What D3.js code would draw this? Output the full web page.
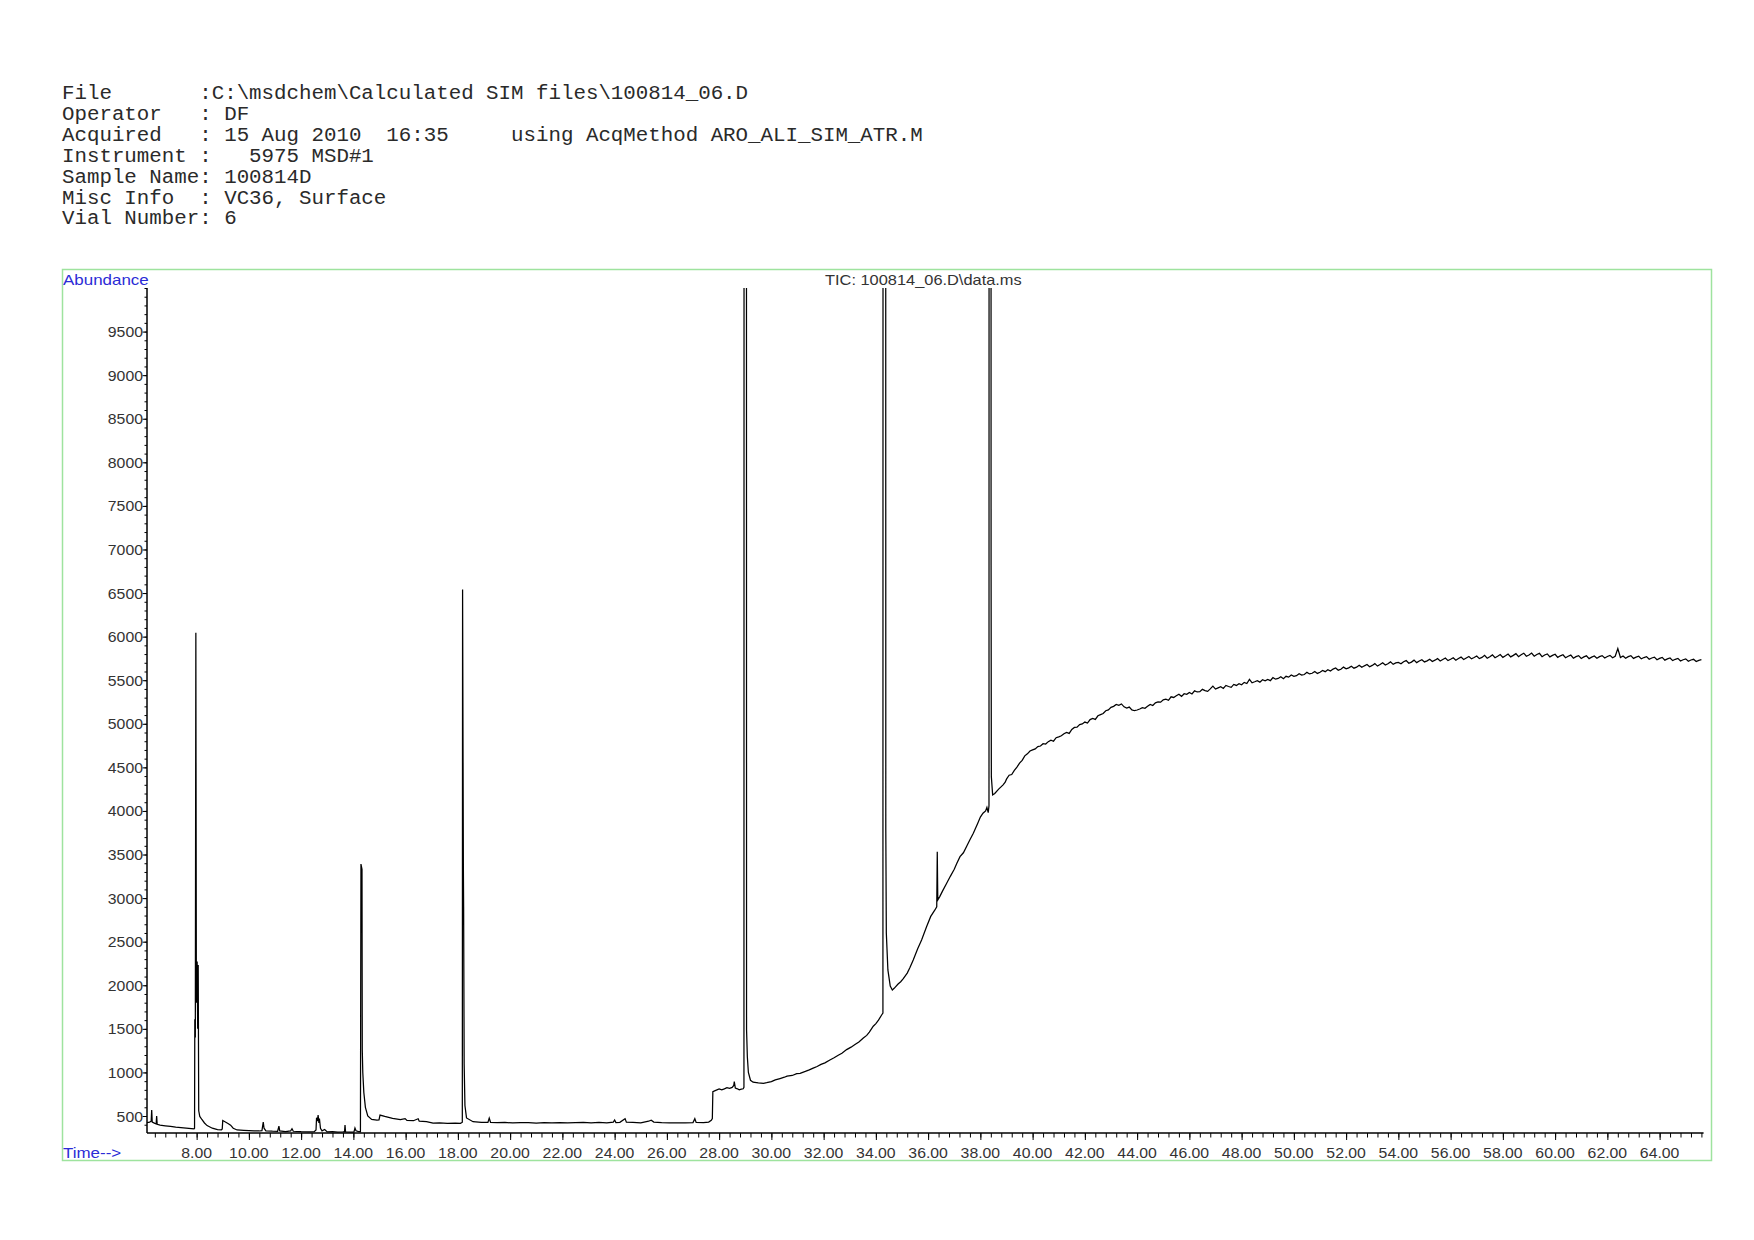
<!DOCTYPE html>
<html><head><meta charset="utf-8">
<script src="https://cdn.jsdelivr.net/npm/d3@7"></script>
<style>body{margin:0;background:#fff} svg{display:block}</style>
</head><body>
<script>
// ---------------- data ----------------
const headerLines = [
  "File       :C:\\msdchem\\Calculated SIM files\\100814_06.D",
  "Operator   : DF",
  "Acquired   : 15 Aug 2010  16:35     using AcqMethod ARO_ALI_SIM_ATR.M",
  "Instrument :   5975 MSD#1",
  "Sample Name: 100814D",
  "Misc Info  : VC36, Surface",
  "Vial Number: 6"
];
const chartTitle = "TIC: 100814_06.D\\data.ms";
const yAxisTitle = "Abundance";
const xAxisTitle = "Time-->";

const xMajorTicks = [8,10,12,14,16,18,20,22,24,26,28,30,32,34,36,38,40,42,44,46,48,50,52,54,56,58,60,62,64];
const xTickLabels = ["8.00","10.00","12.00","14.00","16.00","18.00","20.00","22.00","24.00","26.00","28.00","30.00","32.00","34.00","36.00","38.00","40.00","42.00","44.00","46.00","48.00","50.00","52.00","54.00","56.00","58.00","60.00","62.00","64.00"];
const yMajorTicks = [500,1000,1500,2000,2500,3000,3500,4000,4500,5000,5500,6000,6500,7000,7500,8000,8500,9000,9500];
const yTickLabels = ["500","1000","1500","2000","2500","3000","3500","4000","4500","5000","5500","6000","6500","7000","7500","8000","8500","9000","9500"];

// chromatogram: irregular part (peaks, off-scale apexes are clipped at the top)
const traceTimes = [6.10,6.20,6.26,6.28,6.30,6.40,6.45,6.47,6.49,6.6,6.8,7.0,7.2,7.4,7.6,7.8,7.90,7.92,7.93,7.95,7.97,7.99,8.02,8.04,8.06,8.08,8.12,8.2,8.3,8.4,8.6,8.8,8.95,8.98,9.0,9.05,9.2,9.3,9.4,9.55,9.8,10.0,10.2,10.4,10.5,10.55,10.58,10.65,10.9,11.1,11.15,11.18,11.4,11.6,11.65,11.7,12.0,12.3,12.5,12.57,12.59,12.62,12.65,12.68,12.70,12.74,12.8,12.9,13.0,13.2,13.4,13.6,13.66,13.68,13.70,13.9,14.02,14.06,14.10,14.2,14.27,14.29,14.33,14.34,14.36,14.40,14.46,14.55,14.7,14.9,14.98,15.02,15.2,15.5,15.8,15.98,16.05,16.3,16.48,16.52,16.8,17.05,17.3,17.6,17.9,18.1,18.15,18.17,18.18,18.21,18.22,18.24,18.27,18.33,18.58,18.9,19.15,19.2,19.25,19.5,19.8,20.1,20.4,20.7,21.0,21.3,21.6,21.9,22.2,22.5,22.8,23.1,23.4,23.7,23.95,24.0,24.05,24.2,24.4,24.45,24.7,25.0,25.3,25.4,25.5,25.8,26.1,26.4,26.7,27.0,27.07,27.12,27.4,27.6,27.70,27.74,27.76,27.85,28.0,28.1,28.2,28.3,28.4,28.5,28.56,28.58,28.62,28.7,28.77,28.85,28.92,28.95,28.96,29.04,29.05,29.08,29.12,29.2,29.3,29.5,29.7,29.82,30.0,30.15,30.33,30.5,30.6,30.8,30.97,31.1,31.3,31.45,31.6,31.75,31.9,32.05,32.24,32.4,32.56,32.7,32.88,33.05,33.2,33.35,33.52,33.65,33.75,33.9,34.0,34.1,34.22,34.27,34.28,34.37,34.38,34.40,34.46,34.55,34.63,34.7,34.85,34.95,35.05,35.2,35.3,35.43,35.6,35.75,35.94,36.1,36.26,36.33,36.35,36.37,36.45,36.55,36.71,36.85,37.0,37.1,37.22,37.35,37.5,37.6,37.73,37.9,38.0,38.1,38.2,38.25,38.30,38.33,38.34,38.40,38.41,38.42,38.47,38.55,38.7,38.87,38.95];
const traceValues = [425,430,440,569,430,415,410,500,405,395,388,380,372,368,362,356,352,360,1610,1400,6045,1800,2274,1500,2233,560,495,460,420,390,360,345,342,350,448,440,415,395,360,340,335,332,330,328,332,431,360,330,326,325,385,330,322,330,354,325,320,318,320,340,480,440,511,420,470,360,330,345,318,320,316,318,320,397,318,314,316,362,330,322,320,3390,3330,1260,1000,770,600,500,460,452,455,511,495,472,458,470,450,446,468,440,435,418,420,415,418,416,425,430,6542,3360,2900,1100,620,478,435,428,426,476,428,424,426,420,425,423,418,424,420,425,420,423,428,420,426,421,430,454,425,428,470,430,426,422,440,452,430,424,420,420,422,424,470,426,423,430,450,470,780,792,810,800,812,826,818,828,850,894,820,812,800,808,812,830,30000,30000,1490,1180,1000,910,888,880,875,882,895,915,930,945,958,965,985,990,1012,1030,1050,1068,1092,1110,1143,1168,1198,1220,1262,1290,1320,1350,1395,1425,1462,1530,1560,1600,1659,1680,30000,30000,3782,2600,2176,1990,1946,1965,2015,2040,2075,2140,2200,2290,2420,2520,2672,2790,2864,2900,3533,2979,3020,3080,3170,3250,3330,3400,3476,3520,3610,3670,3744,3860,3930,3974,4000,4040,3980,4060,30000,30000,6820,4394,4184,4200,4250,4299,4330];

// chromatogram: evenly scanned drift part, read every 0.1 min from 39.0 min
const driftStart = 39.0;
const driftStep = 0.1;
const driftValues = [
4365,4410,4418,4465,4502,4548,4580,4632,4655,4688,
4700,4712,4738,4745,4772,4768,4795,4812,4800,4840,
4850,4862,4885,4902,4890,4935,4958,4962,4990,4998,
5020,5008,5048,5062,5050,5092,5105,5118,5150,5160,
5188,5200,5222,5212,5228,5195,5180,5192,5160,5150,
5158,5170,5185,5178,5200,5222,5210,5240,5250,5248,
5275,5282,5270,5310,5302,5322,5340,5315,5345,5338,
5360,5342,5378,5365,5368,5395,5380,5372,5400,5432,
5398,5412,5425,5405,5440,5428,5418,5452,5440,5460,
5448,5475,5462,5510,5470,5482,5495,5478,5505,5492,
5508,5495,5530,5512,5520,5540,5518,5545,5535,5560,
5545,5552,5575,5558,5565,5590,5572,5580,5600,5578,
5592,5612,5598,5620,5605,5628,5640,5615,5625,5650,
5630,5642,5660,5638,5650,5672,5648,5665,5680,5655,
5670,5690,5662,5680,5700,5675,5688,5710,5682,5698,
5705,5688,5712,5725,5695,5708,5730,5702,5720,5735,
5710,5722,5740,5715,5730,5748,5720,5738,5755,5725,
5740,5758,5730,5750,5765,5738,5755,5772,5745,5760,
5778,5748,5762,5785,5752,5770,5790,5758,5775,5795,
5762,5780,5800,5768,5785,5805,5770,5792,5810,5775,
5790,5812,5775,5795,5808,5770,5790,5802,5768,5785,
5798,5762,5780,5792,5758,5775,5788,5752,5770,5782,
5750,5768,5780,5748,5765,5778,5752,5770,5782,5755,
5772,5785,5758,5775,5862,5760,5778,5752,5770,5782,
5750,5765,5775,5745,5760,5770,5740,5755,5765,5735,
5750,5762,5730,5745,5755,5725,5740,5750,5720,5735,
5745,5718,5732,5740,5715,5728,5735];

// ---------------- drawing ----------------
const W = 1754, H = 1240;
const svg = d3.select("body").append("svg").attr("width", W).attr("height", H);

const plot = {left:147, right:1703.5, top:288, bottom:1133};
const x = d3.scaleLinear().domain([6.1, 65.68]).range([plot.left, plot.right]);
const y = d3.scaleLinear().domain([305, 10000]).range([plot.bottom, plot.top]);

const sansFont = "Arial, 'Liberation Sans', sans-serif";
const stretch = 1.13;

// header
const hdr = svg.append("g");
headerLines.forEach((line, i) => {
  hdr.append("text")
    .attr("transform", `translate(62,${99 + i*20.9}) scale(1.04,1)`)
    .attr("font-family", "'Liberation Mono', 'Courier New', monospace")
    .attr("font-size", 20)
    .attr("fill", "#2a2a2a")
    .style("white-space", "pre")
    .attr("xml:space", "preserve")
    .text(line);
});

// frame
svg.append("rect").attr("x", 62.5).attr("y", 269.5).attr("width", 1649).attr("height", 891)
  .attr("fill", "none").attr("stroke", "#9ee39e").attr("stroke-width", 1.5);

// axis titles and chart title
function stext(str, tx, ty, opts) {
  return svg.append("text")
    .attr("transform", `translate(${tx},${ty}) scale(${stretch},1)`)
    .attr("font-family", sansFont)
    .attr("font-size", opts.size)
    .attr("fill", opts.fill)
    .attr("text-anchor", opts.anchor || "start")
    .text(str);
}
stext(yAxisTitle, 63, 285, {size:15, fill:"#2b2bd6"});
stext(xAxisTitle, 63, 1158, {size:15, fill:"#2b2bd6"});
stext(chartTitle, 825, 285, {size:14.5, fill:"#333"});

// y axis
const yAxisG = svg.append("g").attr("transform", `translate(${plot.left},0)`);
const yMinor = d3.axisLeft(y).tickValues(d3.range(400, 10001, 100)).tickSize(2.5).tickFormat("");
const yMajor = d3.axisLeft(y).tickValues(yMajorTicks).tickSize(4.5).tickFormat("");
yAxisG.append("g").call(yMinor);
yAxisG.append("g").call(yMajor);
yAxisG.selectAll("line").attr("stroke", "#000");
yAxisG.selectAll(".domain").attr("stroke", "#000").attr("d", `M0,${plot.top}V${plot.bottom}`);
yMajorTicks.forEach((v, i) => {
  stext(yTickLabels[i], 143, y(v) + 5.5, {size:14, fill:"#333", anchor:"end"});
});

// x axis
const xAxisG = svg.append("g").attr("transform", `translate(0,${plot.bottom})`);
const xMinor = d3.axisBottom(x).tickValues(d3.range(6.4, 65.7, 0.4)).tickSize(4.5).tickFormat("");
const xMajor = d3.axisBottom(x).tickValues(xMajorTicks).tickSize(7).tickFormat("");
xAxisG.append("g").call(xMinor);
xAxisG.append("g").call(xMajor);
xAxisG.selectAll("line").attr("stroke", "#000");
xAxisG.selectAll(".domain").attr("stroke", "#000").attr("d", `M${plot.left},0H${plot.right}`);
xMajorTicks.forEach((v, i) => {
  stext(xTickLabels[i], x(v), 1158, {size:14, fill:"#333", anchor:"middle"});
});

// trace
const points = traceTimes.map((t, i) => [t, traceValues[i]])
  .concat(driftValues.map((v, i) => [driftStart + i*driftStep, v]));

svg.append("clipPath").attr("id", "plotclip").append("rect")
  .attr("x", plot.left).attr("y", plot.top)
  .attr("width", plot.right - plot.left).attr("height", plot.bottom - plot.top);

const line = d3.line().x(d => x(d[0])).y(d => y(d[1]));
svg.append("path")
  .datum(points)
  .attr("clip-path", "url(#plotclip)")
  .attr("fill", "none")
  .attr("stroke", "#000")
  .attr("stroke-width", 1.25)
  .attr("stroke-linejoin", "miter")
  .attr("d", line);
</script>
</body></html>
